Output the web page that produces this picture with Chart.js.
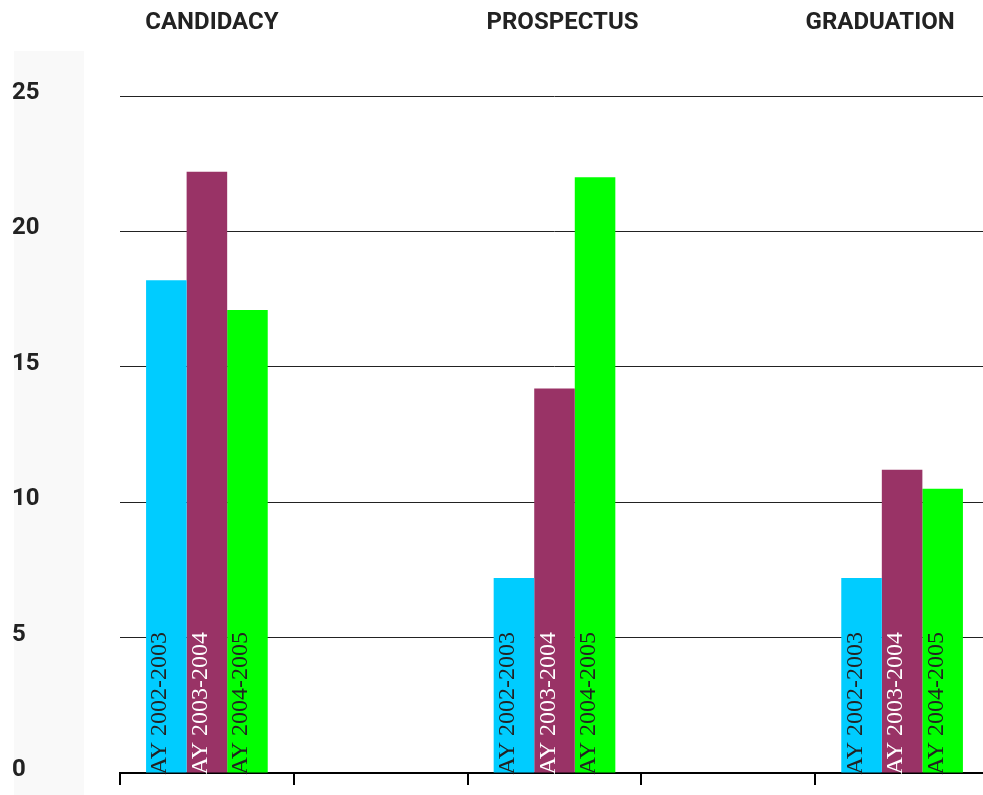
<!DOCTYPE html>
<html>
<head>
<meta charset="utf-8">
<script src="https://cdn.jsdelivr.net/npm/chart.js@4.4.1/dist/chart.umd.min.js"></script>
<style>
  html, body { margin: 0; padding: 0; background: #fff; overflow: hidden; }
  #wrap { width: 989px; height: 795px; position: relative; }
</style>
</head>
<body>
<div id="wrap"><canvas id="chart"></canvas></div>
<script>
// categorias (as vazias servem de espaço entre os grupos)
const stages = ["CANDIDACY", "", "PROSPECTUS", "", "GRADUATION"];
const years = ["AY 2002-2003", "AY 2003-2004", "AY 2004-2005"];

const ay0203 = [18.2, null, 7.2, null, 7.2];
const ay0304 = [22.2, null, 14.2, null, 11.2];
const ay0405 = [17.1, null, 22.0, null, 10.5];

const yTicks = [0, 5, 10, 15, 20, 25];

const barColors = ["#00ccff", "#993366", "#00ff00"];
const textColors = ["#222222", "#ffffff", "#222222"];
const titleNudge = [5, 0, 8, 0, -22]; // ajuste horizontal dos títulos

// faixa cinza atrás dos valores do eixo Y
const bandPlugin = {
  id: "band",
  beforeDraw(chart) {
    const ctx = chart.ctx;
    ctx.save();
    ctx.fillStyle = "#f9f9f9";
    ctx.fillRect(14, 51, 70, chart.height - 51);
    ctx.restore();
  },
};

// títulos das etapas no topo
const titlePlugin = {
  id: "titles",
  afterDraw(chart) {
    const ctx = chart.ctx;
    const x = chart.scales.x;
    ctx.save();
    ctx.font = "bold 24px Roboto";
    ctx.fillStyle = "#222";
    ctx.textAlign = "center";
    ctx.textBaseline = "middle";
    stages.forEach((s, i) => {
      if (!s) return;
      ctx.fillText(s, x.getPixelForValue(i) + titleNudge[i], 23);
    });
    ctx.restore();
  },
};

// rótulo vertical dentro de cada barra
const barLabelPlugin = {
  id: "barLabels",
  afterDatasetsDraw(chart) {
    const ctx = chart.ctx;
    ctx.save();
    ctx.font = "24px 'Liberation Serif'";
    ctx.textAlign = "left";
    ctx.textBaseline = "top";
    chart.data.datasets.forEach((ds, d) => {
      const meta = chart.getDatasetMeta(d);
      meta.data.forEach((bar, i) => {
        if (ds.data[i] == null) return;
        ctx.save();
        ctx.translate(bar.x - bar.width / 2 + 2, bar.base + 2);
        ctx.rotate(-Math.PI / 2);
        ctx.fillStyle = textColors[d];
        ctx.fillText(ds.label, 0, 0);
        ctx.restore();
      });
    });
    ctx.restore();
  },
};

new Chart(document.getElementById("chart"), {
  type: "bar",
  data: {
    labels: stages,
    datasets: [
      { label: years[0], data: ay0203, backgroundColor: barColors[0] },
      { label: years[1], data: ay0304, backgroundColor: barColors[1] },
      { label: years[2], data: ay0405, backgroundColor: barColors[2] },
    ],
  },
  options: {
    responsive: true,
    maintainAspectRatio: false,
    animation: false,
    layout: { padding: { top: 96, left: 12, right: 0, bottom: 10 } },
    datasets: { bar: { barPercentage: 1, categoryPercentage: 0.7 } },
    plugins: {
      legend: { display: false },
      tooltip: { enabled: false },
    },
    scales: {
      x: {
        offset: true,
        grid: {
          offset: true,
          drawOnChartArea: false,
          drawTicks: true,
          tickLength: 12,
          color: "#000",
          lineWidth: 2,
        },
        border: { display: true, color: "#000", width: 2 },
        ticks: { display: false },
      },
      y: {
        min: 0,
        max: 25,
        afterFit(scale) { scale.width = 108; },
        afterBuildTicks(scale) { scale.ticks = yTicks.map((v) => ({ value: v })); },
        grid: {
          drawTicks: false,
          color: (c) => (c.tick && c.tick.value === 0 ? "rgba(0,0,0,0)" : "#222"),
          lineWidth: 1,
        },
        border: { display: false },
        ticks: {
          crossAlign: "far",
          color: "#222",
          font: { family: "Roboto", size: 24, weight: "bold" },
          padding: 0,
          labelOffset: -3,
        },
      },
    },
  },
  plugins: [bandPlugin, titlePlugin, barLabelPlugin],
});
</script>
</body>
</html>
